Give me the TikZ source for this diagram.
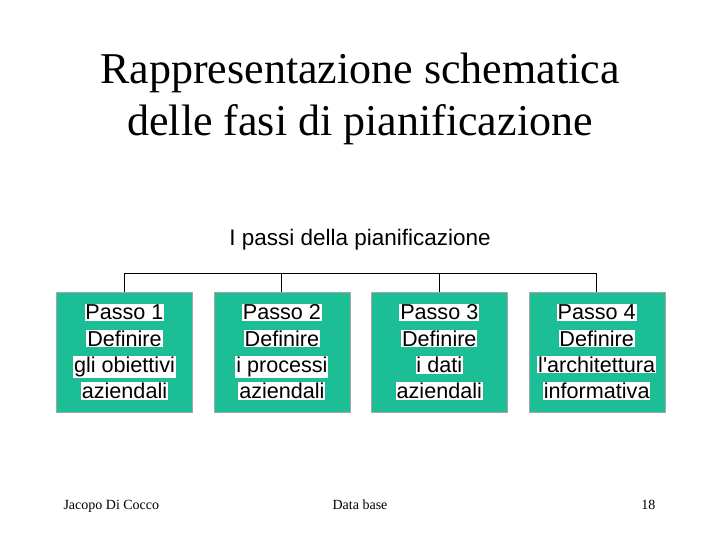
\documentclass[tikz,border=0pt]{standalone}
\usepackage{fontspec}
\setmainfont{Liberation Serif}
\newfontfamily\arialfont{Liberation Sans}
\usepackage{xcolor}
\usetikzlibrary{positioning}
\definecolor{passogreen}{RGB}{28,190,150}
\newcommand{\wl}[1]{{\setlength{\fboxsep}{0.8pt}\colorbox{white}{#1}}}

\begin{document}
\begin{tikzpicture}[
        x=1pt, y=-1pt,
        node distance=4mm and 21pt,
        passo/.style={draw=gray!70, fill=passogreen, align=center, inner sep=0pt,
            minimum width=136pt, minimum height=120pt,
            font=\arialfont\fontsize{21.6}{26.3}\selectfont},
        slidetitle/.style={font=\fontsize{44}{44}\selectfont, anchor=base},
        footer/.style={font=\fontsize{14}{14}\selectfont, anchor=base},
        link/.style={line width=1pt},
    ]
        \useasboundingbox[fill=white] (0,0) rectangle (720,540);

        \node[slidetitle] (title1) at (360,84) {Rappresentazione schematica};
        \node[slidetitle] (title2) at (360,136) {delle fasi di pianificazione};

        \node[font=\arialfont\fontsize{22.5}{22.5}\selectfont] (root) at (360,240) {I passi della pianificazione};

        \node[passo] (p1) at (124.5,352) {\wl{Passo 1}\\\wl{Definire}\\\wl{gli obiettivi}\\\wl{aziendali}};
        \node[passo, right=of p1] (p2) {\wl{Passo 2}\\\wl{Definire}\\\wl{i processi}\\\wl{aziendali}};
        \node[passo, right=of p2] (p3) {\wl{Passo 3}\\\wl{Definire}\\\wl{i dati}\\\wl{aziendali}};
        \node[passo, right=of p3] (p4) {\wl{Passo 4}\\\wl{Definire}\\\wl{l'architettura}\\\wl{informativa}};

        \draw[link] (p1.north) -- ++(0,-18) -| (p4.north);
        \draw[link] (p2.north) -- ++(0,-18);
        \draw[link] (p3.north) -- ++(0,-18);

        \node[footer, anchor=base west] (author) at (60,509) {Jacopo Di Cocco};
        \node[footer] (course) at (360,509) {Data base};
        \node[footer, anchor=base east] (page) at (659,509) {18};
    \end{tikzpicture}
\end{document}
